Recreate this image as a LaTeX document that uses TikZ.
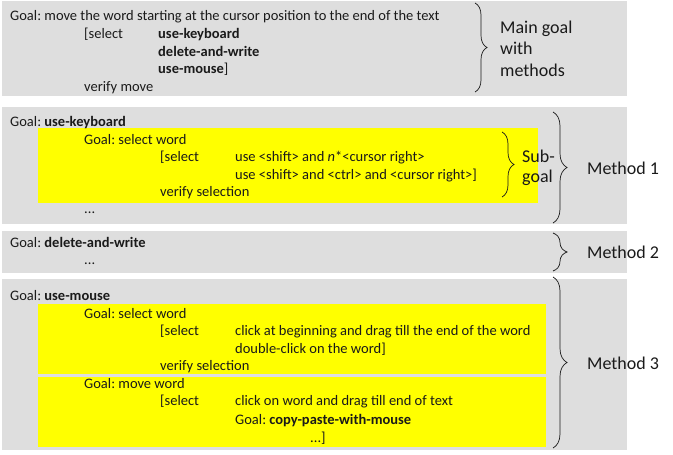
\documentclass[tikz,border=0pt]{standalone}
\usepackage{fontspec}
\setmainfont{Carlito}
\frenchspacing
\usetikzlibrary{decorations.pathreplacing}
\definecolor{boxgray}{HTML}{DEDEDE}
\definecolor{hiyellow}{HTML}{FFFF00}
\definecolor{ink}{HTML}{1A1A1A}
\begin{document}
\begin{tikzpicture}[x=1pt,y=-1pt,
  txt/.style={anchor=base west,inner sep=0pt,text=ink,font=\fontsize{14.5}{17}\selectfont},
  lbl/.style={anchor=base west,inner sep=0pt,text=ink,font=\fontsize{18}{21}\selectfont},
  graybox/.style={fill=boxgray},
  ybox/.style={fill=hiyellow},
  brc/.style={decorate,decoration={brace,amplitude=#1},line width=0.7pt,draw=ink},
  brc/.default=13pt]
\useasboundingbox[fill=white] (0,0) rectangle (673,455);
% gray boxes
\fill[graybox] (2,1) rectangle (627,96);
\fill[graybox] (2,107) rectangle (627,224);
\fill[graybox] (2,231) rectangle (627,273);
\fill[graybox] (2,279) rectangle (627,450);
% yellow boxes
\fill[ybox] (38,128) rectangle (538,203);
\fill[ybox] (38,304) rectangle (546,374);
\fill[ybox] (38,377) rectangle (546,447);
% box 1
\node[txt] (g0) at (10,20.5) {Goal: move the word starting at the cursor position to the end of the text};
\node[txt] (s0) at (84,38.3) {[select};
\node[txt] (m1) at (158,38.3) {\textbf{use-keyboard}};
\node[txt] (m2) at (158,56.1) {\textbf{delete-and-write}};
\node[txt] (m3) at (158,73.9) {\textbf{use-mouse}]};
\node[txt] (v0) at (84,91.7) {verify move};
% box 2
\node[txt] (g1) at (10,126) {Goal: \textbf{use-keyboard}};
\node[txt] (g1a) at (84,144) {Goal: select word};
\node[txt] (s1) at (160,161.5) {[select};
\node[txt] (k1) at (235,161.5) {use <shift> and \textit{n}*<cursor right>};
\node[txt] (k2) at (235,179) {use <shift> and <ctrl> and <cursor right>]};
\node[txt] (v1) at (160,196.5) {verify selection};
\node[txt] (d1) at (84,213.5) {...};
% box 3
\node[txt] (g2) at (10,247.5) {Goal: \textbf{delete-and-write}};
\node[txt] (d2) at (84,264.5) {...};
% box 4
\node[txt] (g3) at (10,300.5) {Goal: \textbf{use-mouse}};
\node[txt] (g3a) at (84,318) {Goal: select word};
\node[txt] (s3) at (160,335.5) {[select};
\node[txt] (c1) at (235,335.5) {click at beginning and drag till the end of the word};
\node[txt] (c2) at (235,353.5) {double-click on the word]};
\node[txt] (v3) at (160,370.5) {verify selection};
\node[txt] (g3b) at (84,388) {Goal: move word};
\node[txt] (s4) at (160,405.5) {[select};
\node[txt] (c3) at (235,405.5) {click on word and drag till end of text};
\node[txt] (c4) at (235,424) {Goal: \textbf{copy-paste-with-mouse}};
\node[txt] (d4) at (310,442) {...]};
% braces
\coordinate (b0t) at (475,3);   \coordinate (b0b) at (475,92);
\coordinate (bst) at (502,132); \coordinate (bsb) at (502,197);
\coordinate (b1t) at (553,112); \coordinate (b1b) at (553,223);
\coordinate (b2t) at (553,233); \coordinate (b2b) at (553,271);
\coordinate (b3t) at (553,277); \coordinate (b3b) at (553,448);
\draw[brc=12pt] (b0t) -- (b0b);
\draw[brc=12pt] (bst) -- (bsb);
\draw[brc=14pt] (b1t) -- (b1b);
\draw[brc=14pt] (b2t) -- (b2b);
\draw[brc=14pt] (b3t) -- (b3b);
% labels
\node[lbl] (l0a) at (500,33) {Main goal};
\node[lbl] (l0b) at (500,54.5) {with};
\node[lbl] (l0c) at (500,76) {methods};
\node[lbl] (lsa) at (522,162) {Sub-};
\node[lbl] (lsb) at (522,182) {goal};
\node[lbl] (l1) at (587,174) {Method 1};
\node[lbl] (l2) at (587,258) {Method 2};
\node[lbl] (l3) at (587,369) {Method 3};
\end{tikzpicture}
\end{document}
